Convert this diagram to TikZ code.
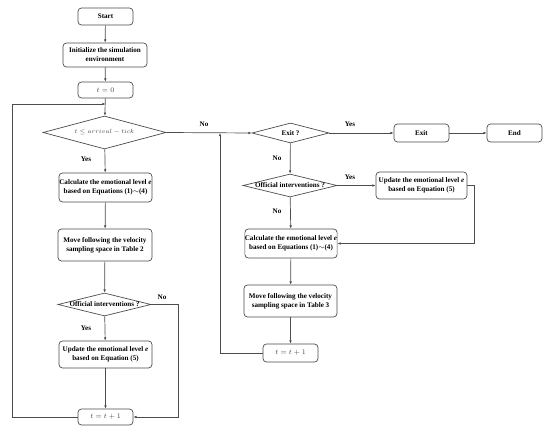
\documentclass[tikz,border=0pt]{standalone}
\usepackage{fontspec}
\setmainfont{Liberation Serif}
\usetikzlibrary{shapes.geometric,arrows.meta}
\begin{document}
\begin{tikzpicture}[x=1pt,y=-1pt,
  txt/.style={font=\bfseries\fontsize{7.1}{9}\selectfont},
  box/.style={txt,draw=black!70,line width=0.7pt,rounded corners=3.5pt,align=center,inner sep=0pt,fill=white},
  dia/.style={txt,draw=black!70,line width=0.7pt,diamond,inner sep=0pt,align=center},
  arr/.style={draw=black!70,line width=0.7pt,-{Latex[length=3.2pt,width=2.6pt]}},
  mth/.style={text=black!75},
  lab/.style={txt,inner sep=0pt}]
\useasboundingbox (0,0) rectangle (550,433);
% left column
\node[box,minimum width=55pt,minimum height=17pt] (start) at (105.5,16.5) {Start};
\node[box,minimum width=84pt,minimum height=24pt] (init) at (105,55) {Initialize the simulation\\environment};
\node[box,mth,minimum width=55pt,minimum height=16pt] (t0) at (105.5,90) {$t=0$};
\node[dia,mth,minimum width=123pt,minimum height=33pt,aspect=3.73,font=\fontsize{6}{7}\selectfont] (d1) at (104.5,132.5) {$t \le arrival - tick$};
\node[box,minimum width=93pt,minimum height=29pt] (calc1) at (105.5,187.5) {Calculate the emotional level \textit{e}\\based on Equations (1)$\sim$(4)};
\node[box,minimum width=94pt,minimum height=32pt] (move1) at (105,245) {Move following the velocity\\sampling space in Table 2};
\node[dia,minimum width=93pt,minimum height=23pt,aspect=4.04] (d2) at (104.5,304.5) {Official interventions ?};
\node[box,minimum width=93pt,minimum height=27pt] (upd1) at (105.5,354.5) {Update the emotional level \textit{e}\\based on Equation (5)};
\node[box,mth,minimum width=55pt,minimum height=16pt] (t1) at (105.5,417) {$t=t+1$};
% right part
\node[dia,minimum width=77pt,minimum height=20pt,aspect=3.85] (exitd) at (290.5,133) {Exit ?};
\node[box,minimum width=55pt,minimum height=18pt] (exitb) at (421.5,133) {Exit};
\node[box,minimum width=55pt,minimum height=18pt] (endb) at (514.5,133) {End};
\node[dia,minimum width=94pt,minimum height=23pt,aspect=4.09] (d3) at (290,185.5) {Official interventions ?};
\node[box,minimum width=91pt,minimum height=27pt] (upd2) at (421.5,185.5) {Update the emotional level \textit{e}\\based on Equation (5)};
\node[box,minimum width=92pt,minimum height=29pt] (calc2) at (291,243.5) {Calculate the emotional level \textit{e}\\based on Equations (1)$\sim$(4)};
\node[box,minimum width=93pt,minimum height=32pt] (move2) at (290.5,301) {Move following the velocity\\sampling space in Table 3};
\node[box,mth,minimum width=55pt,minimum height=18pt] (t2) at (290.5,353) {$t=t+1$};
% coordinates
\coordinate (lp) at (12,104);
\coordinate (j2) at (220,133);
\coordinate (r2) at (178,304.5);
\coordinate (r3) at (474,185.5);
% connectors left
\draw[arr] (start) -- (init);
\draw[arr] (init) -- (t0);
\draw[arr] (t0) -- (d1);
\draw[arr] (d1) -- (calc1);
\draw[arr] (calc1) -- (move1);
\draw[arr] (move1) -- (d2);
\draw[arr] (d2) -- (upd1);
\draw[arr] (upd1) -- (t1);
\draw[arr] (d2.east) -- (r2) |- (t1.east);
\draw[arr] (t1.west) -| (lp) -- (lp -| t0.south);
% connectors right
\draw[arr] (d1.east) -- (exitd.west);
\draw[arr] (t2.west) -| (j2);
\draw[arr] (exitd.east) -- (exitb.west);
\draw[arr] (exitb) -- (endb);
\draw[arr] (exitd) -- (d3);
\draw[arr] (d3.east) -- (upd2.west);
\draw[arr] (d3) -- (calc2);
\draw[arr] (upd2.east) -- (r3) |- (calc2.east);
\draw[arr] (calc2) -- (move2);
\draw[arr] (move2) -- (t2);
% labels
\node[lab] (l1) at (86,159) {Yes};
\node[lab] (l2) at (86,328) {Yes};
\node[lab] (l3) at (162,297) {No};
\node[lab] (l4) at (204,124) {No};
\node[lab] (l5) at (350,124) {Yes};
\node[lab] (l6) at (277,158) {No};
\node[lab] (l7) at (350,177) {Yes};
\node[lab] (l8) at (277,211) {No};
\end{tikzpicture}
\end{document}
